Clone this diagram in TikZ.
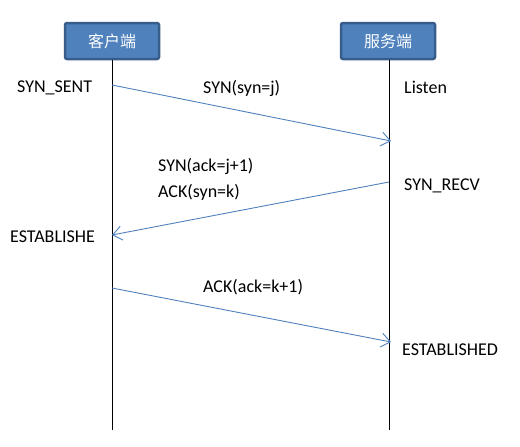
\documentclass[tikz,border=0pt]{standalone}
\usepackage{fontspec}
\setmainfont{Carlito}
\newfontfamily\cjk{Noto Sans CJK SC}
\usetikzlibrary{arrows.meta}
\definecolor{boxblue}{HTML}{4F81BD}
\definecolor{boxedge}{HTML}{385D8A}
\tikzstyle{party} = [rectangle, rounded corners=2pt, minimum width=94pt, minimum height=36pt, draw=boxedge, line width=2.5pt, fill=boxblue, text=white, font=\cjk\fontsize{16}{20}\selectfont]
\tikzstyle{lifeline} = [line width=1pt, black]
\tikzstyle{msg} = [draw=boxblue, line width=0.9pt, -{Straight Barb[length=9pt,width=14pt]}]
\tikzstyle{state} = [font=\fontsize{18}{21}\selectfont, inner sep=0pt, anchor=west]

\begin{document}
\begin{tikzpicture}[x=1pt, y=-1pt]
\useasboundingbox (0,0) rectangle (520,447);

% Parties
\node (client) [party] at (112,41) {客户端};
\node (server) [party] at (388,41) {服务端};
\coordinate (clientend) at (112,430);
\coordinate (serverend) at (389,430);

% Lifelines
\draw [lifeline] (client.south) -- (clientend);
\draw [lifeline] (server.south -| serverend) -- (serverend);

% Message end points
\coordinate (c1) at (112,85);
\coordinate (s1) at (391,141);
\coordinate (s2) at (389,182);
\coordinate (c2) at (112,235);
\coordinate (c3) at (112,288);
\coordinate (s3) at (391,342);

% Messages
\draw [msg] (c1) -- (s1);
\draw [msg] (s2) -- (c2);
\draw [msg] (c3) -- (s3);

% Labels
\node (synj) [state] at (203,88) {SYN(syn=j)};
\node (synack) [state] at (158,166) {SYN(ack=j+1)};
\node (acksyn) [state] at (158,192) {ACK(syn=k)};
\node (ackk) [state] at (203,287) {ACK(ack=k+1)};

% States
\node (synsent) [state] at (17,88) {SYN\_SENT};
\node (listen) [state] at (404,87) {Listen};
\node (synrecv) [state] at (404,186) {SYN\_RECV};
\node (estc) [state] at (10,237) {ESTABLISHE};
\node (ests) [state] at (402,350) {ESTABLISHED};

\end{tikzpicture}
\end{document}
